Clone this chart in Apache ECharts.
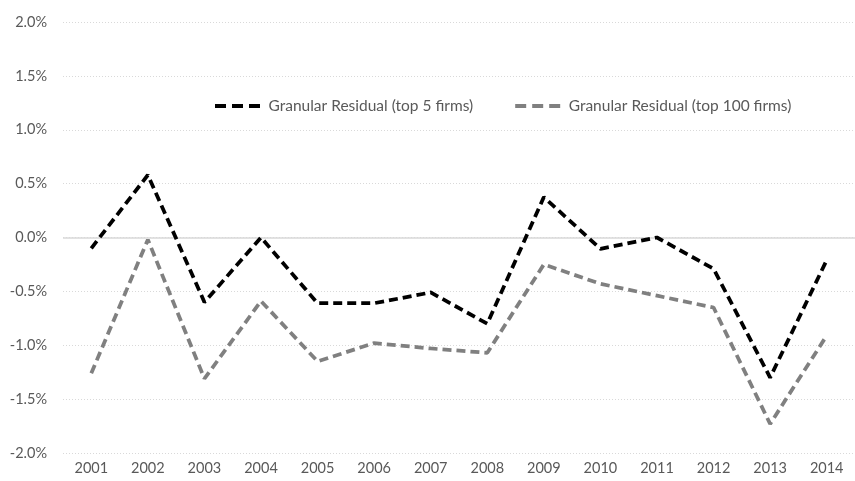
<!DOCTYPE html>
<html>
<head>
<meta charset="utf-8">
<script src="https://cdn.jsdelivr.net/npm/echarts@6/dist/echarts.min.js"></script>
<style>
  html, body { margin: 0; padding: 0; background: #fff; }
  #chart { width: 855px; height: 481px; }
</style>
</head>
<body>
<div id="chart"></div>
<script>
const years = ['2001', '2002', '2003', '2004', '2005', '2006', '2007', '2008', '2009', '2010', '2011', '2012', '2013', '2014'];
// values in percent
const top5 = [-0.10, 0.58, -0.60, 0.00, -0.61, -0.61, -0.51, -0.80, 0.375, -0.105, 0.00, -0.29, -1.30, -0.21];
const top100 = [-1.26, -0.02, -1.31, -0.59, -1.15, -0.98, -1.03, -1.07, -0.25, -0.43, -0.54, -0.65, -1.73, -0.91];
const seriesNames = ['Granular Residual (top 5 firms)', 'Granular Residual (top 100 firms)'];

const chart = echarts.init(document.getElementById('chart'));

const textColor = '#595959';
const font = 'Lato, "Open Sans", sans-serif';
// three short dashes, like the excel legend key
const dashIcon = 'path://M0,0h11v4h-11z M17,0h11v4h-11z M34,0h11v4h-11z';

chart.setOption({
  animation: false,
  backgroundColor: '#ffffff',
  grid: { left: 63, right: -13, top: 22, bottom: 28 },
  legend: {
    left: 210,
    top: 93,
    itemWidth: 46,
    itemHeight: 4,
    itemGap: 42,
    textStyle: { color: textColor, fontSize: 15.5, fontFamily: font, padding: [0, 0, 0, 3] },
    data: [
      { name: seriesNames[0], icon: dashIcon },
      { name: seriesNames[1], icon: dashIcon }
    ]
  },
  xAxis: {
    type: 'category',
    data: years,
    boundaryGap: true,
    axisLine: { show: false },
    axisTick: { show: false },
    axisLabel: { color: textColor, fontSize: 14.5, fontFamily: font, margin: 8 },
    splitLine: { show: false }
  },
  yAxis: {
    type: 'value',
    min: -2,
    max: 2,
    interval: 0.5,
    axisLine: { show: false },
    axisTick: { show: false },
    axisLabel: {
      color: textColor, fontSize: 14.5, fontFamily: font, margin: 16,
      formatter: v => v.toFixed(1) + '%'
    },
    splitLine: { lineStyle: { color: '#d9d9d9', type: [1, 2], width: 1 } }
  },
  series: [
    {
      name: seriesNames[0],
      type: 'line',
      data: top5,
      symbol: 'none',
      lineStyle: { color: '#000000', width: 3.75, type: [9, 5] },
      itemStyle: { color: '#000000' },
      z: 3,
      markLine: {
        silent: true,
        symbol: 'none',
        label: { show: false },
        lineStyle: { color: '#d9d9d9', type: 'solid', width: 1.5 },
        data: [{ yAxis: 0 }],
        z: 1
      }
    },
    {
      name: seriesNames[1],
      type: 'line',
      data: top100,
      symbol: 'none',
      lineStyle: { color: '#808080', width: 3.75, type: [9, 5] },
      itemStyle: { color: '#808080' },
      z: 2
    }
  ]
});

window.addEventListener('resize', () => chart.resize());
</script>
</body>
</html>
